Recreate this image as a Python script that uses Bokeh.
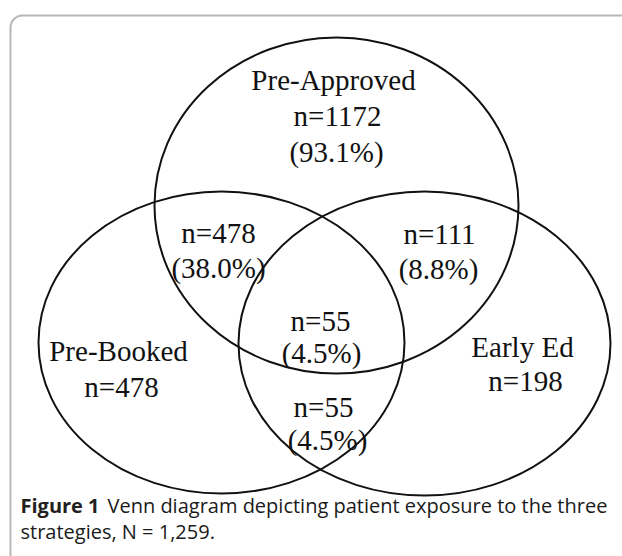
from bokeh.plotting import figure
from bokeh.models import ColumnDataSource, Range1d, BoxAnnotation
from bokeh.core.properties import value
from bokeh.embed import file_html
from bokeh.resources import INLINE

# ---- data ----
set_names = ["Pre-Approved", "Pre-Booked", "Early Ed"]
set_counts = [1172, 478, 198]
set_pcts = ["(93.1%)", "", ""]

overlap_names = ["Pre-Approved & Pre-Booked", "Pre-Approved & Early Ed",
                 "All three", "Pre-Booked & Early Ed"]
overlap_counts = [478, 111, 55, 55]
overlap_pcts = ["(38.0%)", "(8.8%)", "(4.5%)", "(4.5%)"]

caption_bold = "Figure 1"
caption_rest = "Venn diagram depicting patient exposure to the three"
caption_line2 = "strategies, N = 1,259."

# ---- layout (pixel coordinates of the picture) ----
circle_cx = [336, 221, 424]
circle_cy = [205, 342, 343]
circle_w = [364, 366, 372]
circle_h = [336, 302, 304]

set_name_pos = [(333, 79), (118, 350), (522, 346)]
set_count_pos = [(337, 115), (121, 386), (525, 380)]
set_pct_pos = [(336, 151), (0, 0), (0, 0)]
ov_count_pos = [(218, 232), (439, 233), (320, 320), (323, 406)]
ov_pct_pos = [(218, 267), (438, 268), (321, 352), (327, 439)]

W, H = 622, 556
p = figure(width=W, height=H, x_range=Range1d(0, W), y_range=Range1d(H, 0),
           output_backend="svg", toolbar_location=None,
           x_axis_type=None, y_axis_type=None,
           min_border=0, min_border_left=0, min_border_right=0,
           min_border_top=0, min_border_bottom=0)
p.grid.visible = False
p.outline_line_color = None
p.background_fill_color = "white"
p.border_fill_color = "white"

# rounded frame
frame = BoxAnnotation(left=10, right=700, top=15, bottom=700,
                      fill_alpha=0, line_color="#111111", line_width=2,
                      border_radius=12)
p.add_layout(frame)

circles = ColumnDataSource(dict(x=circle_cx, y=circle_cy, w=circle_w, h=circle_h,
                                name=set_names))
p.ellipse(x="x", y="y", width="w", height="h", source=circles,
          fill_alpha=0, line_color="#111111", line_width=2)

lx, ly, lt = [], [], []
for i, n in enumerate(set_names):
    lx.append(set_name_pos[i][0]); ly.append(set_name_pos[i][1]); lt.append(n)
    lx.append(set_count_pos[i][0]); ly.append(set_count_pos[i][1]); lt.append(f"n={set_counts[i]}")
    if set_pcts[i]:
        lx.append(set_pct_pos[i][0]); ly.append(set_pct_pos[i][1]); lt.append(set_pcts[i])
for i, n in enumerate(overlap_names):
    lx.append(ov_count_pos[i][0]); ly.append(ov_count_pos[i][1]); lt.append(f"n={overlap_counts[i]}")
    lx.append(ov_pct_pos[i][0]); ly.append(ov_pct_pos[i][1]); lt.append(overlap_pcts[i])

labels = ColumnDataSource(dict(x=lx, y=ly, text=lt))
p.text(x="x", y="y", text="text", source=labels,
       text_align="center", text_baseline="middle",
       text_font=value("Liberation Serif"), text_font_size="29px",
       text_color="#111111")

cap = ColumnDataSource(dict(x=[20], y=[505], text=[caption_bold]))
p.text(x="x", y="y", text="text", source=cap, text_align="left", text_baseline="middle",
       text_font=value("Open Sans"), text_font_size="20px", text_font_style="bold",
       text_color="#231f20")
cap2 = ColumnDataSource(dict(x=[107, 20], y=[505, 531], text=[caption_rest, caption_line2]))
p.text(x="x", y="y", text="text", source=cap2, text_align="left", text_baseline="middle",
       text_font=value("Open Sans"), text_font_size="20px",
       text_color="#1a1a1a")

open("out.html", "w").write(file_html(p, INLINE))
